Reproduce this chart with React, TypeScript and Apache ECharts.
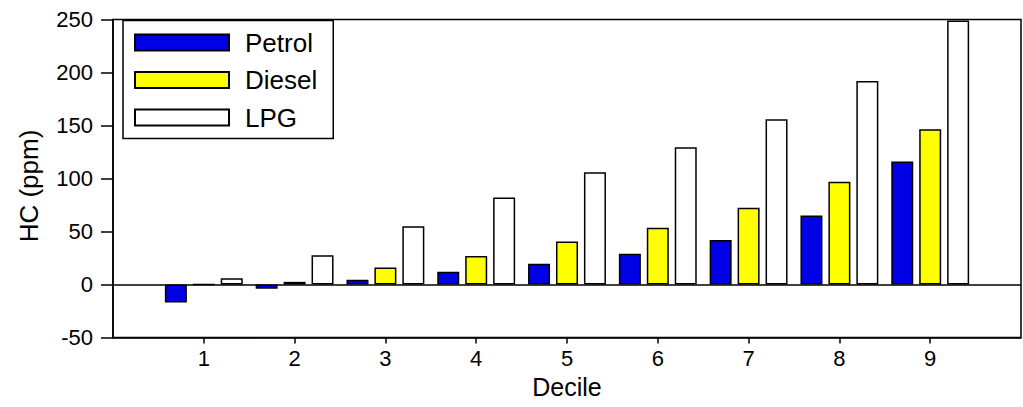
import React, { useEffect, useRef } from "react";
import * as echarts from "echarts";

const deciles = ["1", "2", "3", "4", "5", "6", "7", "8", "9"];
const petrol = [-17, -4, 4.5, 12, 19.5, 29, 42, 65, 116];
const diesel = [0, 2.5, 16, 27, 40.5, 53.5, 72.5, 97, 146.5];
const lpg = [6, 27.5, 55, 82, 106, 129.5, 156, 192, 249];
const yTicks = { min: -50, max: 250, interval: 50 };

const FONT = "'Liberation Sans', Arial, sans-serif";

export default function App() {
  const ref = useRef<HTMLDivElement>(null);
  useEffect(() => {
    document.body.style.margin = "0";
    const chart = echarts.init(ref.current!, undefined, { renderer: "svg" });
    // pad categories with empty end slots (0 and 10) so axis spans 0..10
    const cats = ["0", ...deciles, "10"];
    const pad = (arr: number[]) => ["-", ...arr, "-"];
    const barBase = {
      type: "bar" as const,
      barWidth: 22,
      barGap: "27%",
    };
    chart.setOption({
      animation: false,
      textStyle: { fontFamily: FONT },
      grid: {
        left: 113,
        right: 2,
        top: 19.5,
        bottom: 69.5,
        show: true,
        borderColor: "#000",
        borderWidth: 1.5,
        containLabel: false,
        outerBoundsMode: "none",
      },
      legend: {
        orient: "vertical",
        left: 123,
        top: 20.5,
        icon: "rect",
        itemWidth: 94,
        itemHeight: 16,
        itemGap: 11.5,
        itemTextGap: 19,
        backgroundColor: "#fff",
        borderColor: "#000",
        borderWidth: 1.5,
        padding: [9, 16, 8, 11],
        textStyle: {
          fontSize: 26,
          color: "#000",
          fontFamily: FONT,
          lineHeight: 20,
          padding: [0, 0, 0, 11],
        },
        data: ["Petrol", "Diesel", "LPG"],
      },
      xAxis: {
        type: "category",
        data: cats,
        boundaryGap: false,
        name: "Decile",
        nameLocation: "middle",
        nameGap: 36,
        nameTextStyle: { fontSize: 25, color: "#000", fontFamily: FONT },
        axisLine: { onZero: false, lineStyle: { color: "#000", width: 1.5 } },
        axisTick: {
          length: 6,
          interval: (i: number) => i > 0 && i < 10,
          lineStyle: { color: "#000", width: 1.5 },
        },
        axisLabel: {
          interval: 0,
          margin: 10,
          fontSize: 22,
          color: "#000",
          fontFamily: FONT,
          formatter: (v: string, i: number) => (i === 0 || i === 10 ? "" : v),
        },
        splitLine: { show: false },
      },
      yAxis: {
        type: "value",
        min: yTicks.min,
        max: yTicks.max,
        interval: yTicks.interval,
        axisLine: { show: true, lineStyle: { color: "#000", width: 1.5 } },
        axisTick: { show: true, length: 12, lineStyle: { color: "#000", width: 1.5 } },
        axisLabel: { margin: 20, fontSize: 22, color: "#000", fontFamily: FONT },
        splitLine: { show: false },
      },
      graphic: [
        {
          type: "text",
          x: 29,
          y: 186,
          rotation: Math.PI / 2,
          style: {
            text: "HC (ppm)",
            fontSize: 26,
            fontFamily: FONT,
            fill: "#000",
            align: "center",
            verticalAlign: "middle",
          },
        },
      ],
      series: [
        {
          ...barBase,
          name: "Petrol",
          data: pad(petrol),
          itemStyle: { color: "#0000e6", borderColor: "#000", borderWidth: 1.5 },
          markLine: {
            silent: true,
            symbol: "none",
            label: { show: false },
            lineStyle: { color: "#000", width: 1.5, type: "solid" },
            data: [{ yAxis: 0 }],
          },
        },
        {
          ...barBase,
          name: "Diesel",
          data: pad(diesel),
          itemStyle: { color: "#ffff00", borderColor: "#000", borderWidth: 1.5 },
        },
        {
          ...barBase,
          name: "LPG",
          data: pad(lpg),
          itemStyle: { color: "#ffffff", borderColor: "#000", borderWidth: 1.5 },
        },
      ],
    });
    return () => chart.dispose();
  }, []);
  return <div ref={ref} style={{ width: 1023, height: 407 }} />;
}
